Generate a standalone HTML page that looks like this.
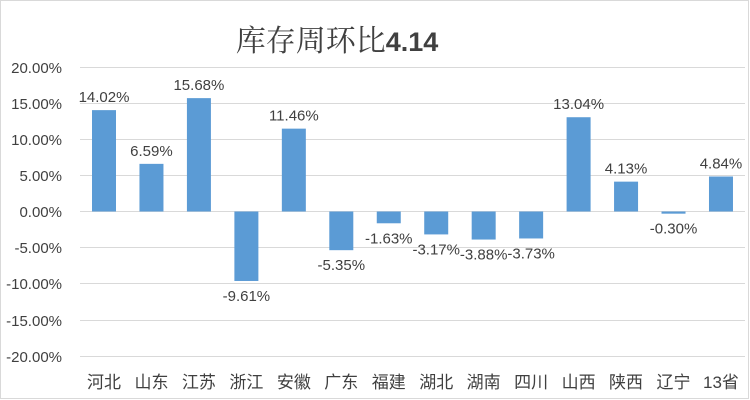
<!DOCTYPE html>
<html><head><meta charset="utf-8"><style>
html,body{margin:0;padding:0;background:#fff;}
svg{display:block;}
</style></head><body>
<svg width="750" height="400" xmlns="http://www.w3.org/2000/svg">
<rect x="0.5" y="0.5" width="748" height="398" fill="#fff" stroke="#d9d9d9"/>
<text x="337" y="51" text-anchor="middle" font-family="'Noto Serif CJK SC','Liberation Serif',serif" font-size="30" fill="#404040">库存周环比<tspan font-family="'Liberation Sans',sans-serif" font-weight="bold" font-size="27">4.14</tspan></text>
<g stroke="#d9d9d9" stroke-width="1">
<line x1="80" x2="745" y1="67.5" y2="67.5"/>
<line x1="80" x2="745" y1="103.5" y2="103.5"/>
<line x1="80" x2="745" y1="139.5" y2="139.5"/>
<line x1="80" x2="745" y1="175.5" y2="175.5"/>
<line x1="80" x2="745" y1="211.5" y2="211.5"/>
<line x1="80" x2="745" y1="247.5" y2="247.5"/>
<line x1="80" x2="745" y1="283.5" y2="283.5"/>
<line x1="80" x2="745" y1="320.5" y2="320.5"/>
<line x1="80" x2="745" y1="356.5" y2="356.5"/>
</g>
<g font-family="'Liberation Sans',sans-serif" font-size="15" fill="#404040" text-anchor="end">
<text x="62" y="73">20.00%</text>
<text x="62" y="109">15.00%</text>
<text x="62" y="145">10.00%</text>
<text x="62" y="181">5.00%</text>
<text x="62" y="217">0.00%</text>
<text x="62" y="253">-5.00%</text>
<text x="62" y="289">-10.00%</text>
<text x="62" y="326">-15.00%</text>
<text x="62" y="362">-20.00%</text>
</g>
<g id="bars" fill="#5b9bd5"></g>
<g id="labels" font-family="'Liberation Sans',sans-serif" font-size="15" fill="#404040" text-anchor="middle"></g>
<g id="cats" font-family="'Liberation Sans','Noto Sans CJK SC',sans-serif" font-size="17" fill="#404040" text-anchor="middle"></g>
<script>
var names=["河北","山东","江苏","浙江","安徽","广东","福建","湖北","湖南","四川","山西","陕西","辽宁","13省"];
var vals=[14.02,6.59,15.68,-9.61,11.46,-5.35,-1.63,-3.17,-3.88,-3.73,13.04,4.13,-0.30,4.84];
var ns="http://www.w3.org/2000/svg",z=211.5,k=7.23;
var B=document.getElementById("bars"),L=document.getElementById("labels"),C=document.getElementById("cats");
for(var i=0;i<14;i++){
 var cx=104+i*47.46,v=vals[i],h=Math.abs(v)*k;
 var r=document.createElementNS(ns,"rect");
 r.setAttribute("x",cx-12);r.setAttribute("width",24);
 r.setAttribute("y",v>=0?z-h:z);r.setAttribute("height",h);B.appendChild(r);
 var t=document.createElementNS(ns,"text");
 t.setAttribute("x",cx);t.setAttribute("y",v>=0?z-h-8:z+h+20);
 t.textContent=v.toFixed(2)+"%";L.appendChild(t);
 var c=document.createElementNS(ns,"text");
 c.setAttribute("x",cx);c.setAttribute("y",388);c.textContent=names[i];C.appendChild(c);
}
</script>
</svg>
</body></html>
